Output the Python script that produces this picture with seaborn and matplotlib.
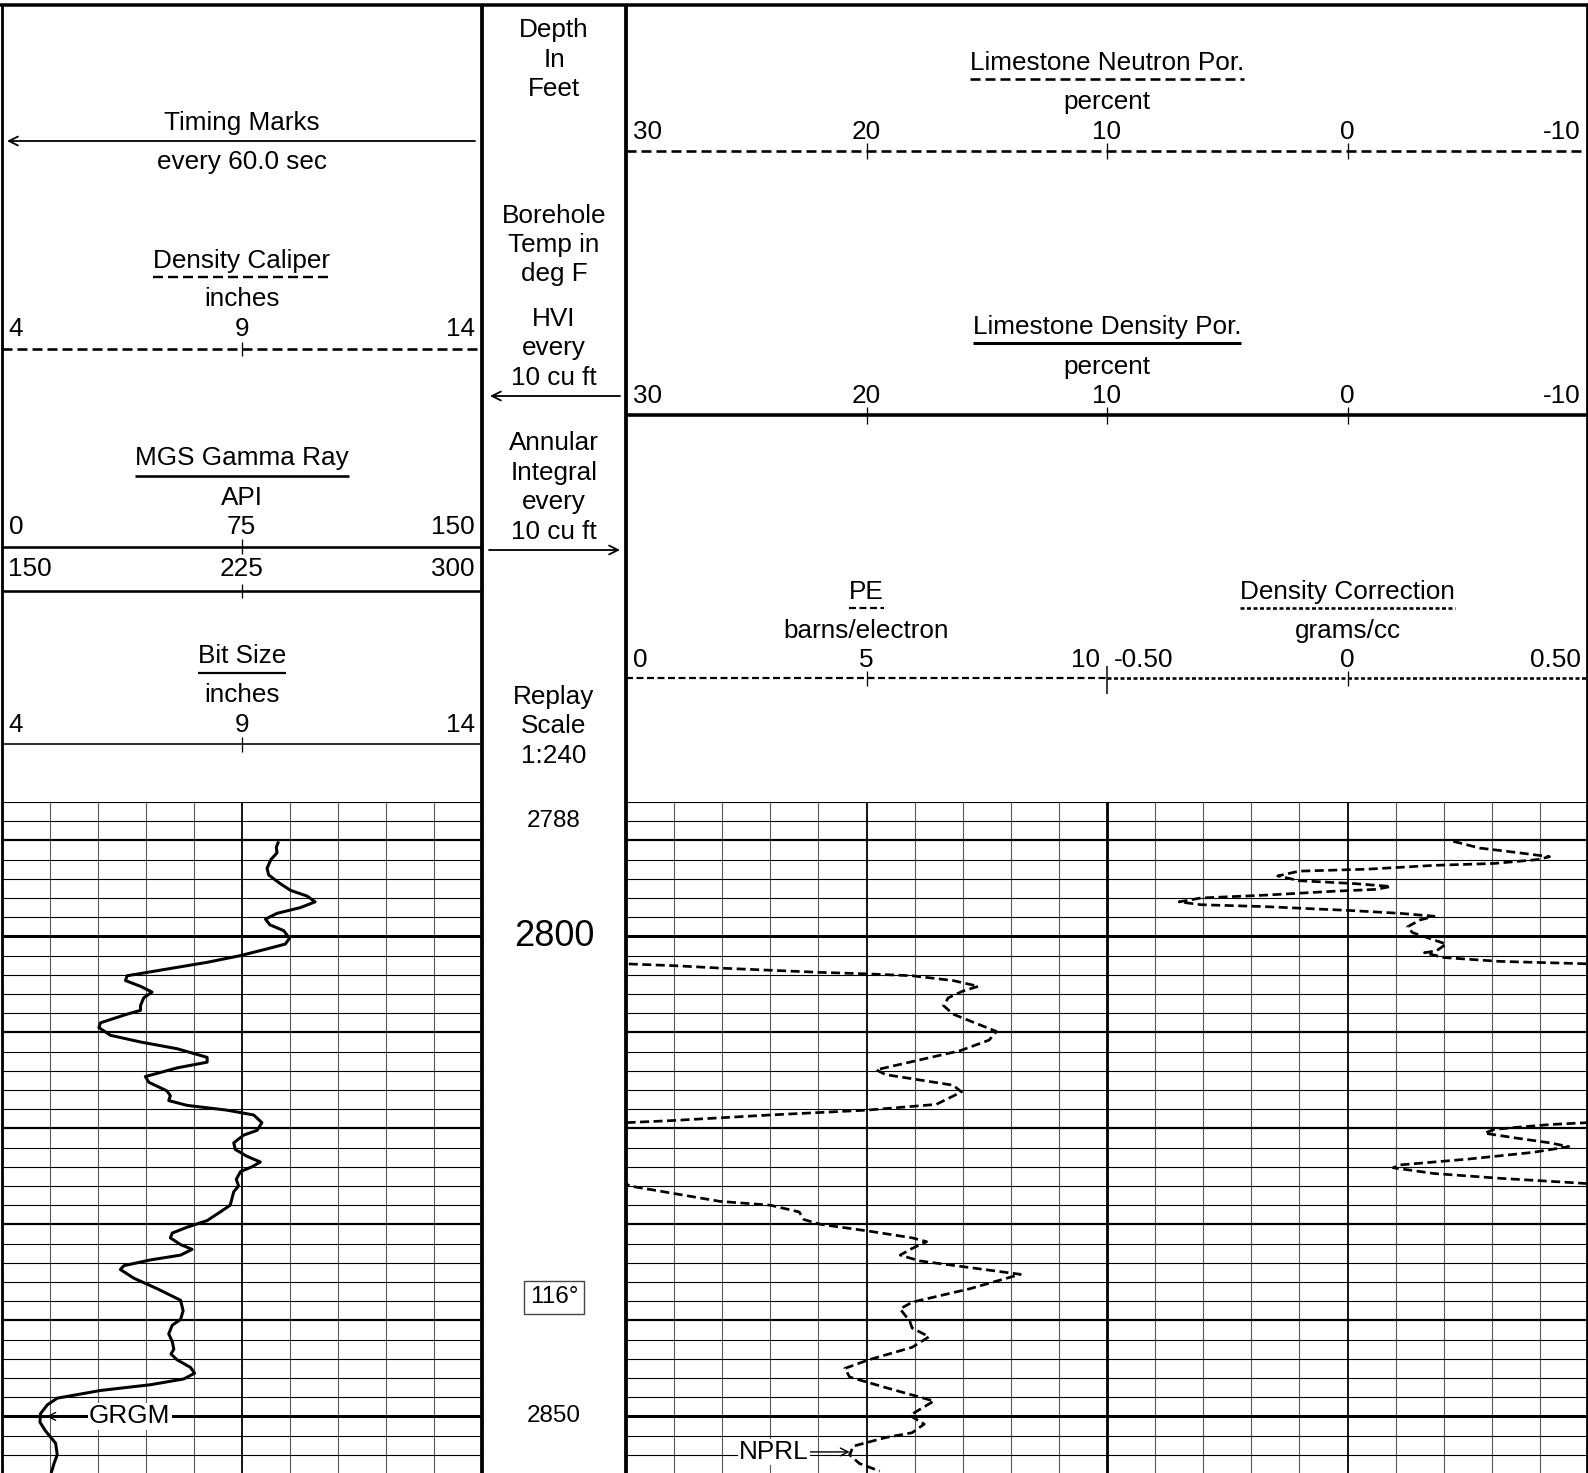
import numpy as np
import pandas as pd
import matplotlib
matplotlib.use("Agg")
import matplotlib.pyplot as plt
import seaborn as sns

# ---------------- curve data ----------------
# MGS gamma ray (API) against depth (ft)
gr_depth = [2790.1, 2790.7, 2791.3, 2792.0, 2792.9, 2793.6, 2794.5, 2795.2, 2795.8, 2796.4,
            2797.0, 2797.6, 2798.2, 2798.8, 2799.4, 2800.2, 2800.8, 2801.3, 2802.0, 2802.7,
            2803.4, 2804.1, 2804.6, 2805.2, 2805.8, 2806.4, 2807.2, 2807.7, 2808.1, 2809.0,
            2809.5, 2810.3, 2811.0, 2811.7, 2812.6, 2813.1, 2813.7, 2814.6, 2815.2, 2816.1,
            2816.6, 2817.1, 2817.6, 2818.1, 2818.6, 2819.4, 2820.2, 2820.7, 2821.5, 2822.2,
            2822.9, 2823.5, 2824.0, 2824.5, 2825.3, 2826.0, 2826.6, 2828.0, 2828.7, 2829.6,
            2830.3, 2830.9, 2831.4, 2832.1, 2832.6, 2833.2, 2833.7, 2834.3, 2834.7, 2835.6,
            2836.7, 2837.9, 2839.0, 2839.9, 2840.5, 2841.4, 2842.2, 2843.0, 2843.5, 2844.1,
            2844.9, 2845.5, 2846.1, 2846.7, 2847.3, 2848.1, 2848.8, 2849.7, 2850.6, 2851.5,
            2852.8, 2854.0, 2854.9, 2855.9]
gr_api = [86.5, 85.8, 86.0, 84.1, 82.9, 83.4, 87.0, 90.2, 95.4, 97.9,
          93.3, 86.0, 82.4, 83.8, 88.1, 89.9, 88.6, 82.9, 74.6, 64.2,
          51.7, 39.2, 38.7, 43.4, 47.0, 44.4, 43.4, 43.4, 39.2, 30.9,
          30.4, 34.0, 43.4, 54.8, 64.2, 64.2, 54.8, 44.9, 46.0, 51.7,
          52.7, 52.2, 57.9, 70.4, 78.7, 81.3, 79.8, 75.6, 72.5, 73.0,
          76.6, 80.8, 78.2, 74.6, 73.3, 74.0, 72.5, 71.4, 68.3, 64.2,
          57.9, 53.3, 52.7, 55.9, 59.5, 55.9, 46.5, 38.2, 37.1, 41.3,
          48.6, 55.9, 56.7, 55.9, 53.3, 52.2, 53.3, 53.8, 52.9, 54.8,
          59.0, 60.3, 56.9, 46.5, 30.9, 17.4, 14.3, 12.2, 12.0, 13.7,
          16.9, 17.4, 16.4, 15.5]

# Limestone neutron porosity (percent); values above 30 ride the backup scale
npor_depth = [2790.1, 2790.8, 2791.25, 2791.7, 2792.0, 2792.4, 2792.6, 2793.0, 2793.2, 2793.7,
              2794.2, 2794.5, 2794.8, 2795.1, 2795.3, 2795.7, 2796.0, 2796.4, 2796.7, 2796.9,
              2797.3, 2797.6, 2797.9, 2798.3, 2799.0, 2799.6, 2800.2, 2800.8, 2801.5, 2801.7,
              2802.2, 2802.6, 2802.85, 2803.05, 2803.3, 2803.75, 2803.9, 2804.1, 2804.6, 2805.2,
              2805.7, 2806.4, 2807.2, 2808.1, 2809.9, 2810.8, 2811.9, 2813.1, 2813.9, 2814.4,
              2815.5, 2816.2, 2817.5, 2818.1, 2818.6, 2819.2, 2819.4, 2819.6, 2819.9, 2820.1,
              2820.5, 2821.0, 2821.5, 2821.9, 2822.5, 2823.2, 2823.8, 2824.1, 2824.7, 2825.2,
              2825.75, 2826.0, 2826.7, 2827.6, 2828.0, 2828.7, 2829.5, 2830.0, 2830.7, 2831.4,
              2831.8, 2832.5, 2833.2, 2833.8, 2834.5, 2835.2, 2836.7, 2838.1, 2838.8, 2840.1,
              2840.8, 2841.7, 2842.8, 2844.1, 2845.0, 2845.9, 2847.0, 2848.4, 2849.3, 2849.9,
              2850.8, 2851.7, 2852.2, 2853.1, 2854.0, 2854.9, 2855.7]
npor_pct = [35.6, 34.5, 33.0, 31.6, 32.1, 33.9, 36.4, 39.2, 42.0, 42.9,
            42.0, 39.7, 38.2, 38.8, 40.6, 43.4, 46.1, 47.0, 46.1, 43.4,
            39.9, 37.8, 36.4, 37.0, 37.5, 37.3, 36.6, 35.9, 36.3, 36.8,
            36.0, 33.7, 30.1, 28.0, 26.1, 21.9, 20.0, 18.1, 16.4, 15.35,
            16.0, 16.6, 16.8, 16.4, 14.6, 14.9, 16.1, 18.2, 19.6, 19.2,
            16.4, 16.05, 17.1, 20.0, 24.0, 28.2, 30.0, 31.6, 33.0, 33.9,
            34.3, 33.0, 31.6, 30.8, 32.3, 35.0, 37.8, 38.1, 36.4, 33.65,
            30.0, 29.85, 28.2, 26.1, 24.0, 22.8, 22.6, 21.9, 19.9, 18.1,
            17.5, 18.1, 18.6, 17.8, 15.7, 13.6, 15.7, 18.1, 18.6, 18.2,
            18.1, 17.4, 18.1, 19.9, 20.9, 20.7, 19.2, 17.2, 17.8, 18.2,
            17.6, 18.1, 19.2, 20.55, 20.7, 20.3, 19.45]

# ---------------- header scales ----------------
caliper_ticks = [4, 9, 14]
gr_ticks = [0, 75, 150]
gr_backup_ticks = [150, 225, 300]
bit_ticks = [4, 9, 14]
npor_ticks = [30, 20, 10, 0, -10]
dpor_ticks = [30, 20, 10, 0, -10]
pe_ticks = [0, 5, 10]
drho_ticks = [-0.5, 0.0, 0.5]
drho_labels = ["-0.50", "0", "0.50"]
depth_labels = [2788, 2800, 2850]
temp_depth = 2837.6
temp_label = "116°"

# ---------------- style ----------------
sns.set_style("white")
plt.rcParams["font.family"] = ["Liberation Sans", "DejaVu Sans"]
plt.rcParams["lines.scale_dashes"] = False
plt.rcParams["lines.solid_capstyle"] = "butt"
plt.rcParams["lines.dash_capstyle"] = "butt"
plt.rcParams["text.color"] = "black"

W, H = 1588, 1473
PX = 0.72            # points per pixel at 100 dpi
FS = 18.8            # header font size
FS_DEPTH = 17.5
fig = plt.figure(figsize=(W / 100, H / 100), dpi=100)
fig.patch.set_facecolor("white")

T1 = (1.5, 482.0)
TD = (482.0, 626.0)
T2 = (626.0, 1107.0)
T3 = (1107.0, 1588.0)
GRID_TOP = 802.0
FT_PX = 9.6
DEPTH_TOP = 2786.0
DEPTH_BOT = DEPTH_TOP + (H - GRID_TOP) / FT_PX


def px_axes(x0, x1, y0, y1, z=1):
    ax = fig.add_axes([x0 / W, 1 - y1 / H, (x1 - x0) / W, (y1 - y0) / H])
    ax.set_zorder(z)
    ax.patch.set_alpha(0)
    return ax


def depth_grid(ax):
    for d in range(int(DEPTH_TOP), int(DEPTH_BOT) + 1, 2):
        if d % 50 == 0:
            lw = 3.0
        elif d % 10 == 0:
            lw = 2.2
        else:
            lw = 1.1
        ax.axhline(d, color="black", lw=lw * PX, zorder=1)


def finish(ax, xlim):
    ax.set_xlim(*xlim)
    ax.set_ylim(DEPTH_BOT, DEPTH_TOP)
    ax.set_xlabel("")
    ax.set_ylabel("")
    ax.set_axis_off()


# ---------------- track 1: gamma ray ----------------
ax1 = px_axes(T1[0], T1[1], GRID_TOP, H)
for v in np.arange(0, 151, 15):
    mid = v == 75
    ax1.axvline(v, color="black" if mid else "#5a5a5a", lw=(1.8 if mid else 1.1) * PX, zorder=1)
depth_grid(ax1)
gr_df = pd.DataFrame({"depth": gr_depth, "api": gr_api})
sns.lineplot(data=gr_df, x="api", y="depth", sort=False, estimator=None,
             color="black", lw=3.0 * PX, solid_joinstyle="round", ax=ax1, zorder=3)
ax1.annotate("GRGM", xy=(14.0, 2850), xytext=(27.3, 2850), ha="left", va="center",
             fontsize=FS, zorder=4,
             bbox=dict(boxstyle="square,pad=0.05", fc="white", ec="none"),
             arrowprops=dict(arrowstyle="->", lw=1.0, color="black",
                             shrinkA=0, shrinkB=0, mutation_scale=14))
finish(ax1, (0, 150))

# ---------------- tracks 2+3: neutron porosity ----------------
ax2 = px_axes(T2[0], T3[1], GRID_TOP, H)
for v in np.arange(-10, 31, 2):
    if v == 10:
        c, lw = "black", 2.8
    elif v in (20, 0):
        c, lw = "black", 1.8
    else:
        c, lw = "#5a5a5a", 1.1
    ax2.axvline(v, color=c, lw=lw * PX, zorder=1)
depth_grid(ax2)
np_df = pd.DataFrame({"depth": npor_depth, "main": npor_pct})
np_df["backup"] = np_df["main"] - 40.0
for col in ["main", "backup"]:
    sns.lineplot(data=np_df, x=col, y="depth", sort=False, estimator=None,
                 color="black", lw=2.7 * PX, linestyle=(0, (9 * PX, 4.5 * PX)),
                 dash_joinstyle="round", ax=ax2, zorder=3)
ax2.annotate("NPRL", xy=(20.7, 2853.7), xytext=(22.4, 2853.7), ha="right", va="center",
             fontsize=FS, zorder=4,
             bbox=dict(boxstyle="square,pad=0.05", fc="white", ec="none"),
             arrowprops=dict(arrowstyle="->", lw=1.0, color="black",
                             shrinkA=0, shrinkB=0, mutation_scale=14))
finish(ax2, (30, -10))

# ---------------- depth track ----------------
axd = px_axes(TD[0], TD[1], GRID_TOP, H)
for d in depth_labels:
    big = d % 100 == 0
    axd.text(0.5, d, str(d), ha="center", va="center",
             fontsize=26 if big else FS_DEPTH)
axd.text(0.5, temp_depth, temp_label, ha="center", va="center", fontsize=FS_DEPTH,
         bbox=dict(boxstyle="square,pad=0.22", fc="white", ec="#444444", lw=1.0))
finish(axd, (0, 1))

# ---------------- header and frame (pixel coordinates) ----------------
ov = fig.add_axes([0, 0, 1, 1])
ov.set_zorder(10)
ov.patch.set_alpha(0)
ov.set_xlim(0, W)
ov.set_ylim(H, 0)
ov.set_axis_off()
renderer = fig.canvas.get_renderer()


def hline(x0, x1, y, lw, ls="-"):
    ov.plot([x0, x1], [y, y], color="black", lw=lw * PX, linestyle=ls)


def vline(x, y0, y1, lw):
    ov.plot([x, x], [y0, y1], color="black", lw=lw * PX)


def label(x, y, s, fs=FS, ha="center"):
    return ov.text(x, y + 1, s, ha=ha, va="center", fontsize=fs)


def underline(t, y, lw, ls="-"):
    bb = t.get_window_extent(renderer=renderer)
    hline(bb.x0, bb.x1, y, lw, ls)


def scale_labels(track, lo, hi, ticks, y, texts=None):
    x0, x1 = track
    texts = texts or [f"{t:g}" for t in ticks]
    for i, (v, s) in enumerate(zip(ticks, texts)):
        if i == 0:
            label(x0 + 7, y, s, ha="left")
        elif i == len(ticks) - 1:
            label(x1 - 7, y, s, ha="right")
        else:
            xp = x0 + (v - lo) / (hi - lo) * (x1 - x0)
            label(xp, y, s)


def scale_ticks(track, lo, hi, ticks, y0, y1, lw=1.3):
    x0, x1 = track
    for v in ticks[1:-1]:
        xp = x0 + (v - lo) / (hi - lo) * (x1 - x0)
        vline(xp, y0, y1, lw)


def arrow(x_from, x_to, y):
    ov.annotate("", xy=(x_to, y), xytext=(x_from, y),
                arrowprops=dict(arrowstyle="->", lw=1.3, color="black",
                                shrinkA=0, shrinkB=0, mutation_scale=16))


DASH = (0, (10 * PX, 5 * PX))
SHORT = (0, (7 * PX, 3.5 * PX))
DOT = (0, (4 * PX, 2.5 * PX))
c1 = (T1[0] + T1[1]) / 2
cd = (TD[0] + TD[1]) / 2
c23 = T3[0]

# frame
hline(0, W, 5, 3.5)
vline(1.5, 5, H, 2.8)
vline(W - 1.5, 5, H, 2.8)
vline(TD[0], 5, H, 3.8)
vline(TD[1], 5, H, 3.8)

# track 1 header
label(c1, 122, "Timing Marks")
arrow(475, 7, 141)
label(c1, 161, "every 60.0 sec")
t = label(c1, 260, "Density Caliper")
underline(t, 277, 2.4, DASH)
label(c1, 298, "inches")
scale_labels(T1, 4, 14, caliper_ticks, 328)
hline(T1[0], T1[1], 349, 2.6, DASH)
scale_ticks(T1, 4, 14, caliper_ticks, 342, 356)
t = label(c1, 457, "MGS Gamma Ray")
underline(t, 476, 2.6)
label(c1, 497, "API")
scale_labels(T1, 0, 150, gr_ticks, 526)
hline(T1[0], T1[1], 547, 2.6)
scale_ticks(T1, 0, 150, gr_ticks, 539, 554)
scale_labels(T1, 150, 300, gr_backup_ticks, 568)
hline(T1[0], T1[1], 591, 2.6)
scale_ticks(T1, 150, 300, gr_backup_ticks, 584, 598)
t = label(c1, 655, "Bit Size")
underline(t, 673, 2.2)
label(c1, 694, "inches")
scale_labels(T1, 4, 14, bit_ticks, 724)
hline(T1[0], T1[1], 744, 1.6)
scale_ticks(T1, 4, 14, bit_ticks, 737, 752)

# depth track header
for y, s in [(29, "Depth"), (59, "In"), (88, "Feet"),
             (215, "Borehole"), (244, "Temp in"), (273, "deg F"),
             (318, "HVI"), (347, "every"), (377, "10 cu ft"),
             (442, "Annular"), (472, "Integral"), (501, "every"), (531, "10 cu ft"),
             (696, "Replay"), (725, "Scale"), (755, "1:240")]:
    label(cd, y, s)
arrow(620, 490, 396)
arrow(489, 620, 550)

# tracks 2 and 3 header
T23 = (T2[0], T3[1])
t = label(c23, 62, "Limestone Neutron Por.")
underline(t, 79, 2.6, DASH)
label(c23, 101, "percent")
scale_labels(T23, 30, -10, npor_ticks, 131)
hline(T2[0], T3[1], 151, 2.6, DASH)
scale_ticks(T23, 30, -10, npor_ticks, 143, 159)
t = label(c23, 326, "Limestone Density Por.")
underline(t, 343, 3.0)
label(c23, 366, "percent")
scale_labels(T23, 30, -10, dpor_ticks, 395)
hline(T2[0], T3[1], 415, 3.6)
scale_ticks(T23, 30, -10, dpor_ticks, 407, 424)

c2 = (T2[0] + T2[1]) / 2
c3 = (T3[0] + T3[1]) / 2
t = label(c2, 591, "PE")
underline(t, 608, 2.2, SHORT)
label(c2, 630, "barns/electron")
scale_labels(T2, 0, 10, pe_ticks, 659)
t = label(c3, 591, "Density Correction")
underline(t, 608, 2.6, DOT)
label(c3, 630, "grams/cc")
scale_labels(T3, -0.5, 0.5, drho_ticks, 659, drho_labels)
hline(T2[0], T2[1], 678, 2.2, SHORT)
hline(T3[0], T3[1], 678, 2.6, DOT)
scale_ticks(T2, 0, 10, pe_ticks, 671, 686)
scale_ticks(T3, -0.5, 0.5, drho_ticks, 671, 686)
vline(T2[1], 666, 694, 1.5)

fig.savefig("out.png", dpi=100, facecolor="white")
